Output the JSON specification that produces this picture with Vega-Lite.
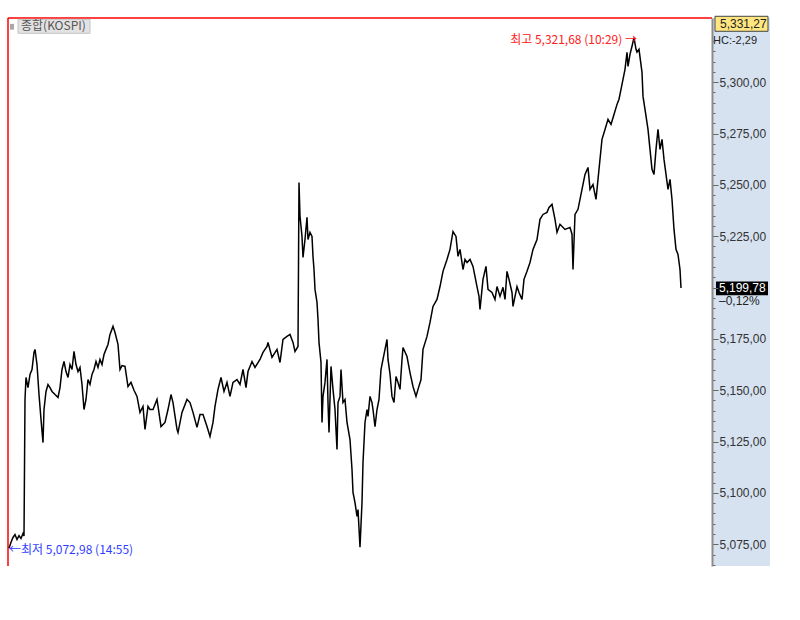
{
  "$schema": "https://vega.github.io/schema/vega-lite/v6.json",
  "width": 762,
  "height": 548,
  "autosize": {"type": "none"},
  "padding": {"left": 8, "top": 18, "right": 30, "bottom": 54},
  "background": "white",
  "config": {"view": {"stroke": null}},
  "encoding": {
    "x": {"field": "t", "type": "quantitative", "scale": {"domain": [8, 770], "nice": false, "zero": false}, "axis": null},
    "y": {
      "field": "v", "type": "quantitative",
      "scale": {"domain": [5064.4, 5331.27], "nice": false, "zero": false},
      "axis": {
        "orient": "right", "offset": -58, "title": null, "grid": false, "zindex": 2,
        "values": [5065,5070,5075,5080,5085,5090,5095,5100,5105,5110,5115,5120,5125,5130,5135,5140,5145,5150,5155,5160,5165,5170,5175,5180,5185,5190,5195,5200,5205,5210,5215,5220,5225,5230,5235,5240,5245,5250,5255,5260,5265,5270,5275,5280,5285,5290,5295,5300,5305,5310,5315,5320],
        "labelExpr": "(datum.value % 25 === 0 && datum.value !== 5200 && datum.value <= 5300) ? replace(format(datum.value, ',.2f'), '.', ',') : ''",
        "tickSize": {"condition": {"test": "datum.value % 25 === 0", "value": 6}, "value": 3},
        "tickColor": "#666", "tickWidth": 1,
        "domainColor": "#8c8c8c", "domainWidth": 2,
        "labelPadding": 1, "labelFont": "Liberation Sans", "labelFontSize": 12, "labelColor": "#333",
        "labelOverlap": false, "labelFlush": false
      }
    }
  },
  "layer": [
    {
      "data": {"values": [{"t": 712, "t2": 770, "v": 5064.4, "v2": 5331.27}]},
      "mark": {"type": "rect", "fill": "#d6e2f0"},
      "encoding": {"x2": {"field": "t2"}, "y2": {"field": "v2"}}
    },
    {
      "data": {"values": [
        {"t": 8, "t2": 8, "v": 5064.4, "v2": 5331.27},
        {"t": 8, "t2": 712, "v": 5331.27, "v2": 5331.27}
      ]},
      "mark": {"type": "rule", "color": "#ff0000", "strokeWidth": 1.5},
      "encoding": {"x2": {"field": "t2"}, "y2": {"field": "v2"}}
    },
    {
      "data": {"values": [
        {"t": 9, "v": 5073.0}, {"t": 11, "v": 5076.0}, {"t": 13, "v": 5078.3}, {"t": 15, "v": 5079.7}, {"t": 17, "v": 5077.3},
        {"t": 19, "v": 5079.2}, {"t": 21, "v": 5077.8}, {"t": 23, "v": 5080.2}, {"t": 24, "v": 5079.0}, {"t": 25, "v": 5145.5},
        {"t": 26, "v": 5156.2}, {"t": 28, "v": 5151.3}, {"t": 30, "v": 5157.7}, {"t": 32, "v": 5160.1}, {"t": 34, "v": 5168.4},
        {"t": 35, "v": 5169.9}, {"t": 37, "v": 5162.5}, {"t": 38, "v": 5155.2}, {"t": 39, "v": 5147.9}, {"t": 41, "v": 5135.8},
        {"t": 43, "v": 5124.5}, {"t": 44, "v": 5140.6}, {"t": 46, "v": 5149.4}, {"t": 48, "v": 5152.8}, {"t": 50, "v": 5151.3},
        {"t": 52, "v": 5149.4}, {"t": 55, "v": 5147.9}, {"t": 58, "v": 5146.5}, {"t": 60, "v": 5151.3}, {"t": 62, "v": 5160.1},
        {"t": 64, "v": 5164.0}, {"t": 66, "v": 5159.1}, {"t": 68, "v": 5156.2}, {"t": 70, "v": 5162.5}, {"t": 72, "v": 5160.1},
        {"t": 74, "v": 5168.9}, {"t": 76, "v": 5162.5}, {"t": 78, "v": 5159.1}, {"t": 80, "v": 5161.1}, {"t": 82, "v": 5152.8},
        {"t": 84, "v": 5140.6}, {"t": 86, "v": 5145.5}, {"t": 88, "v": 5155.2}, {"t": 90, "v": 5152.8}, {"t": 92, "v": 5157.7},
        {"t": 94, "v": 5160.1}, {"t": 96, "v": 5164.0}, {"t": 98, "v": 5161.1}, {"t": 100, "v": 5165.0}, {"t": 102, "v": 5162.5},
        {"t": 104, "v": 5167.4}, {"t": 106, "v": 5169.9}, {"t": 108, "v": 5172.3}, {"t": 110, "v": 5177.2}, {"t": 113, "v": 5181.1},
        {"t": 115, "v": 5178.1}, {"t": 118, "v": 5172.3}, {"t": 120, "v": 5160.1}, {"t": 122, "v": 5162.0}, {"t": 125, "v": 5161.6},
        {"t": 128, "v": 5151.8}, {"t": 131, "v": 5153.8}, {"t": 134, "v": 5150.0}, {"t": 137, "v": 5147.0}, {"t": 140, "v": 5139.2},
        {"t": 143, "v": 5142.1}, {"t": 145, "v": 5130.9}, {"t": 148, "v": 5142.1}, {"t": 150, "v": 5140.6}, {"t": 153, "v": 5140.6},
        {"t": 157, "v": 5145.5}, {"t": 161, "v": 5132.3}, {"t": 165, "v": 5134.3}, {"t": 168, "v": 5140.6}, {"t": 171, "v": 5147.9},
        {"t": 173, "v": 5144.0}, {"t": 177, "v": 5130.9}, {"t": 178, "v": 5129.4}, {"t": 182, "v": 5139.2}, {"t": 187, "v": 5145.5},
        {"t": 190, "v": 5144.0}, {"t": 193, "v": 5139.2}, {"t": 197, "v": 5131.9}, {"t": 200, "v": 5138.2}, {"t": 203, "v": 5138.2},
        {"t": 207, "v": 5132.3}, {"t": 210, "v": 5127.5}, {"t": 213, "v": 5134.3}, {"t": 215, "v": 5142.1}, {"t": 218, "v": 5150.4},
        {"t": 221, "v": 5156.2}, {"t": 224, "v": 5149.4}, {"t": 227, "v": 5153.8}, {"t": 230, "v": 5147.0}, {"t": 233, "v": 5153.8},
        {"t": 237, "v": 5155.2}, {"t": 240, "v": 5152.8}, {"t": 243, "v": 5160.1}, {"t": 246, "v": 5151.3}, {"t": 248, "v": 5159.1},
        {"t": 252, "v": 5164.0}, {"t": 255, "v": 5161.1}, {"t": 260, "v": 5165.0}, {"t": 263, "v": 5168.4}, {"t": 267, "v": 5171.3},
        {"t": 268, "v": 5173.3}, {"t": 272, "v": 5166.0}, {"t": 277, "v": 5169.9}, {"t": 280, "v": 5163.5}, {"t": 283, "v": 5174.7},
        {"t": 287, "v": 5176.2}, {"t": 290, "v": 5177.2}, {"t": 293, "v": 5173.3}, {"t": 295, "v": 5168.9}, {"t": 298, "v": 5171.3},
        {"t": 299, "v": 5251.2}, {"t": 300, "v": 5234.7}, {"t": 302, "v": 5224.9}, {"t": 303, "v": 5214.7}, {"t": 305, "v": 5223.4},
        {"t": 307, "v": 5234.2}, {"t": 308, "v": 5223.4}, {"t": 310, "v": 5226.9}, {"t": 312, "v": 5224.9}, {"t": 313, "v": 5215.2},
        {"t": 314, "v": 5208.8}, {"t": 315, "v": 5199.1}, {"t": 317, "v": 5192.8}, {"t": 318, "v": 5184.5}, {"t": 319, "v": 5173.3},
        {"t": 321, "v": 5163.5}, {"t": 322, "v": 5134.3}, {"t": 323, "v": 5147.0}, {"t": 325, "v": 5153.8}, {"t": 327, "v": 5165.0},
        {"t": 328, "v": 5144.0}, {"t": 329, "v": 5129.4}, {"t": 331, "v": 5161.6}, {"t": 333, "v": 5150.4}, {"t": 335, "v": 5140.6},
        {"t": 337, "v": 5121.1}, {"t": 338, "v": 5144.0}, {"t": 340, "v": 5147.0}, {"t": 341, "v": 5160.1}, {"t": 343, "v": 5144.0},
        {"t": 345, "v": 5145.5}, {"t": 347, "v": 5134.3}, {"t": 350, "v": 5126.0}, {"t": 352, "v": 5111.4}, {"t": 353, "v": 5100.2},
        {"t": 355, "v": 5095.3}, {"t": 357, "v": 5088.5}, {"t": 358, "v": 5091.9}, {"t": 360, "v": 5073.6}, {"t": 362, "v": 5095.3},
        {"t": 363, "v": 5114.8}, {"t": 365, "v": 5134.3}, {"t": 367, "v": 5140.6}, {"t": 368, "v": 5137.2}, {"t": 370, "v": 5147.0},
        {"t": 372, "v": 5144.0}, {"t": 373, "v": 5140.6}, {"t": 375, "v": 5132.3}, {"t": 377, "v": 5140.6}, {"t": 379, "v": 5145.5},
        {"t": 381, "v": 5160.1}, {"t": 383, "v": 5165.0}, {"t": 385, "v": 5169.9}, {"t": 387, "v": 5174.7}, {"t": 388, "v": 5165.0},
        {"t": 390, "v": 5158.0}, {"t": 392, "v": 5147.0}, {"t": 394, "v": 5144.0}, {"t": 396, "v": 5156.7}, {"t": 398, "v": 5153.8},
        {"t": 400, "v": 5150.4}, {"t": 402, "v": 5165.0}, {"t": 403, "v": 5170.8}, {"t": 407, "v": 5166.4}, {"t": 410, "v": 5158.6},
        {"t": 413, "v": 5151.8}, {"t": 416, "v": 5147.0}, {"t": 418, "v": 5150.4}, {"t": 421, "v": 5155.2}, {"t": 423, "v": 5169.9},
        {"t": 427, "v": 5176.2}, {"t": 430, "v": 5183.0}, {"t": 433, "v": 5190.8}, {"t": 437, "v": 5194.2}, {"t": 440, "v": 5200.5},
        {"t": 443, "v": 5207.9}, {"t": 447, "v": 5213.7}, {"t": 450, "v": 5218.6}, {"t": 453, "v": 5227.3}, {"t": 456, "v": 5224.9},
        {"t": 458, "v": 5215.2}, {"t": 460, "v": 5218.6}, {"t": 463, "v": 5208.8}, {"t": 465, "v": 5213.7}, {"t": 467, "v": 5212.2},
        {"t": 470, "v": 5213.7}, {"t": 473, "v": 5210.3}, {"t": 477, "v": 5200.5}, {"t": 479, "v": 5195.7}, {"t": 480, "v": 5189.3},
        {"t": 483, "v": 5204.0}, {"t": 486, "v": 5210.3}, {"t": 488, "v": 5199.1}, {"t": 492, "v": 5197.6}, {"t": 495, "v": 5194.2},
        {"t": 497, "v": 5200.5}, {"t": 500, "v": 5195.7}, {"t": 503, "v": 5200.1}, {"t": 505, "v": 5194.2}, {"t": 507, "v": 5207.9},
        {"t": 509, "v": 5204.0}, {"t": 512, "v": 5197.6}, {"t": 513, "v": 5190.8}, {"t": 517, "v": 5200.5}, {"t": 519, "v": 5197.6},
        {"t": 522, "v": 5194.2}, {"t": 524, "v": 5204.0}, {"t": 527, "v": 5207.9}, {"t": 530, "v": 5212.2}, {"t": 533, "v": 5218.6},
        {"t": 537, "v": 5223.4}, {"t": 540, "v": 5233.2}, {"t": 543, "v": 5235.6}, {"t": 547, "v": 5236.6}, {"t": 549, "v": 5239.0},
        {"t": 552, "v": 5240.5}, {"t": 555, "v": 5233.2}, {"t": 557, "v": 5226.9}, {"t": 560, "v": 5230.8}, {"t": 565, "v": 5228.3},
        {"t": 570, "v": 5229.3}, {"t": 572, "v": 5226.0}, {"t": 573, "v": 5208.8}, {"t": 575, "v": 5235.6}, {"t": 578, "v": 5238.1},
        {"t": 582, "v": 5247.8}, {"t": 585, "v": 5255.1}, {"t": 588, "v": 5258.5}, {"t": 590, "v": 5247.8}, {"t": 593, "v": 5250.2},
        {"t": 596, "v": 5242.9}, {"t": 599, "v": 5257.6}, {"t": 602, "v": 5272.2}, {"t": 605, "v": 5277.0}, {"t": 608, "v": 5281.9},
        {"t": 611, "v": 5279.5}, {"t": 614, "v": 5284.3}, {"t": 617, "v": 5289.2}, {"t": 619, "v": 5291.7}, {"t": 621, "v": 5296.5},
        {"t": 623, "v": 5301.4}, {"t": 625, "v": 5306.3}, {"t": 627, "v": 5314.6}, {"t": 628, "v": 5307.7}, {"t": 630, "v": 5313.6},
        {"t": 632, "v": 5317.5}, {"t": 634, "v": 5321.68}, {"t": 636, "v": 5316.0}, {"t": 637, "v": 5314.6}, {"t": 639, "v": 5316.0},
        {"t": 642, "v": 5304.8}, {"t": 643, "v": 5293.1}, {"t": 645, "v": 5286.8}, {"t": 648, "v": 5277.0}, {"t": 650, "v": 5267.3},
        {"t": 652, "v": 5257.6}, {"t": 654, "v": 5255.1}, {"t": 656, "v": 5267.3}, {"t": 658, "v": 5277.0}, {"t": 660, "v": 5267.3},
        {"t": 662, "v": 5272.2}, {"t": 664, "v": 5262.4}, {"t": 666, "v": 5255.1}, {"t": 668, "v": 5247.8}, {"t": 670, "v": 5252.7},
        {"t": 672, "v": 5242.9}, {"t": 674, "v": 5228.3}, {"t": 676, "v": 5218.6}, {"t": 678, "v": 5216.1}, {"t": 680, "v": 5208.8},
        {"t": 681, "v": 5199.78}
      ]},
      "mark": {"type": "line", "color": "#000000", "strokeWidth": 1.5, "interpolate": "linear"},
      "encoding": {}
    },
    {
      "data": {"values": [{"t": 715, "t2": 768, "v": 5332.1, "v2": 5324.8}]},
      "mark": {"type": "rect", "fill": "#ffe680", "stroke": "#444", "strokeWidth": 1},
      "encoding": {"x2": {"field": "t2"}, "y2": {"field": "v2"}}
    },
    {
      "data": {"values": [{"t": 716, "t2": 768, "v": 5203.0, "v2": 5196.2}]},
      "mark": {"type": "rect", "fill": "#000000"},
      "encoding": {"x2": {"field": "t2"}, "y2": {"field": "v2"}}
    },
    {
      "data": {"values": [{"t": 18, "t2": 90, "v": 5330.6, "v2": 5323.8}]},
      "mark": {"type": "rect", "fill": "#e2e2e2", "stroke": "#c4c4c4", "strokeWidth": 1},
      "encoding": {"x2": {"field": "t2"}, "y2": {"field": "v2"}}
    },
    {
      "data": {"values": [{"t": 10, "t2": 14, "v": 5328.4, "v2": 5325.6}]},
      "mark": {"type": "rect", "fill": "#a8a8a8"},
      "encoding": {"x2": {"field": "t2"}, "y2": {"field": "v2"}}
    },
    {
      "data": {"values": [{"t": 21, "v": 5327.2, "label": "종합(KOSPI)"}]},
      "mark": {"type": "text", "align": "left", "baseline": "middle", "font": "Noto Sans CJK KR", "fontSize": 12, "color": "#555555"},
      "encoding": {"text": {"field": "label"}}
    },
    {
      "data": {"values": [{"t": 637, "v": 5320.4, "label": "최고 5,321,68 (10:29) →"}]},
      "mark": {"type": "text", "align": "right", "baseline": "middle", "font": "Noto Sans CJK KR", "fontSize": 12, "color": "#ff2020"},
      "encoding": {"text": {"field": "label"}}
    },
    {
      "data": {"values": [{"t": 9, "v": 5072.2, "label": "←최저 5,072,98 (14:55)"}]},
      "mark": {"type": "text", "align": "left", "baseline": "middle", "font": "Noto Sans CJK KR", "fontSize": 12, "color": "#3040ff"},
      "encoding": {"text": {"field": "label"}}
    },
    {
      "data": {"values": [
        {"t": 720, "v": 5328.5, "label": "5,331,27"},
        {"t": 719, "v": 5193.4, "label": "–0,12%"}
      ]},
      "mark": {"type": "text", "align": "left", "baseline": "middle", "font": "Liberation Sans", "fontSize": 12, "color": "#222222"},
      "encoding": {"text": {"field": "label"}}
    },
    {
      "data": {"values": [{"t": 713, "v": 5320.0, "label": "HC:-2,29"}]},
      "mark": {"type": "text", "align": "left", "baseline": "middle", "font": "Liberation Sans", "fontSize": 11, "color": "#222222"},
      "encoding": {"text": {"field": "label"}}
    },
    {
      "data": {"values": [{"t": 719, "v": 5199.6, "label": "5,199,78"}]},
      "mark": {"type": "text", "align": "left", "baseline": "middle", "font": "Liberation Sans", "fontSize": 12, "color": "#ffffff"},
      "encoding": {"text": {"field": "label"}}
    }
  ]
}
